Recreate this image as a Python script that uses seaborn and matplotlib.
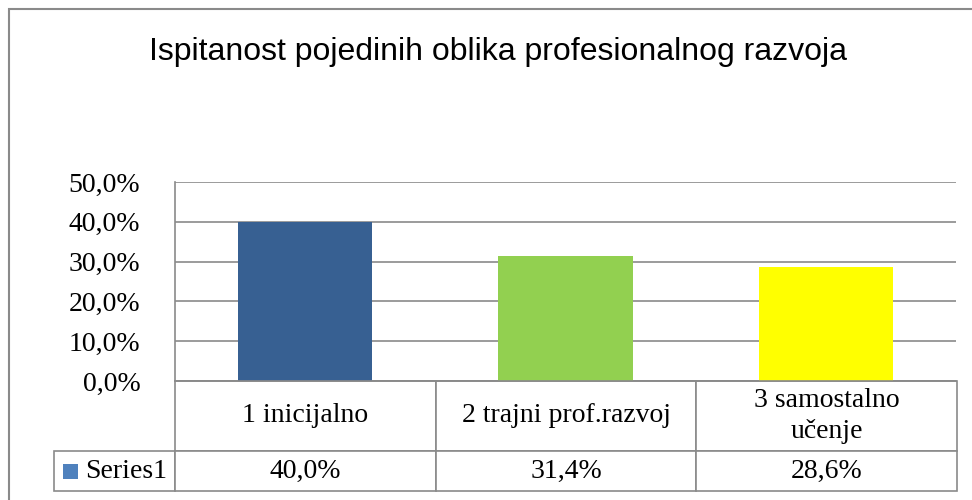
import matplotlib
matplotlib.use("Agg")
import matplotlib.pyplot as plt
from matplotlib.patches import Rectangle
from matplotlib.ticker import FuncFormatter, MultipleLocator
import pandas as pd
import seaborn as sns

# chart data
categories = ["1 inicijalno", "2 trajni prof.razvoj", "3 samostalno\nučenje"]
values = [0.400, 0.314, 0.286]
series_name = "Series1"
bar_colors = ["#376092", "#92D050", "#FFFF00"]
legend_color = "#4F81BD"
title = "Ispitanost pojedinih oblika profesionalnog razvoja"

GRAY = "#8A8A8A"


def pct(v, pos=None):
    return f"{v * 100:.1f}%".replace(".", ",")


sns.set_theme(style="white")
plt.rcParams["font.family"] = ["Liberation Serif", "DejaVu Serif"]
plt.rcParams["text.color"] = "black"

df = pd.DataFrame({"category": categories, "value": values})

fig = plt.figure(figsize=(9.72, 5.0), dpi=100)
W, H = 972, 500
ax = fig.add_axes([175 / W, 1 - 381 / H, (956 - 175) / W, (381 - 182) / H])

sns.barplot(data=df, x="category", y="value", hue="category",
            palette=bar_colors, width=0.515, saturation=1, legend=False,
            linewidth=0, ax=ax)

ax.set_xlim(-0.5, len(categories) - 0.5)
ax.set_ylim(0, 0.5)
ax.yaxis.set_major_locator(MultipleLocator(0.1))
ax.yaxis.set_major_formatter(FuncFormatter(pct))
ax.yaxis.grid(True, color=GRAY, linewidth=1.2)
ax.set_axisbelow(True)
ax.tick_params(axis="y", length=0, pad=25, labelsize=20, colors="black")
ax.set_xticks([])
ax.set_xlabel("")
ax.set_ylabel("")
for side in ("top", "right"):
    ax.spines[side].set_visible(False)
for side in ("left", "bottom"):
    ax.spines[side].set_color(GRAY)
    ax.spines[side].set_linewidth(1.2)

# data table under the plot
ax_w = 956 - 175
ax_h = 381 - 182
lbl_w = (175 - 54) / ax_w
tbl = ax.table(cellText=[[series_name] + [pct(v) for v in values]],
               colLabels=[""] + categories,
               colWidths=[lbl_w] + [1 / len(categories)] * len(categories),
               cellLoc="center",
               bbox=[-lbl_w, -(491 - 381) / ax_h, 1 + lbl_w + 1 / ax_w, (491 - 381) / ax_h])
tbl.auto_set_font_size(False)
tbl.set_fontsize(20)
for (r, c), cell in tbl.get_celld().items():
    cell.set_edgecolor(GRAY)
    cell.set_linewidth(1.2)
    cell.set_height(70 if r == 0 else 40)
    cell.get_text().set_fontsize(20)
    cell.get_text().set_color("black")
    cell.get_text().set_linespacing(1.3)
tbl[0, 0].visible_edges = "open"
tbl[1, 0].get_text().set_horizontalalignment("right")
tbl[1, 0]._loc = "right"
tbl[1, 0].PAD = 0.07

# legend key in the series cell
fig.add_artist(Rectangle((63 / W, 1 - 479 / H), 15 / W, 15 / H,
                         transform=fig.transFigure, facecolor=legend_color,
                         edgecolor="none"))

# chart area frame (right and bottom edges fall outside the picture)
fig.add_artist(Rectangle((9 / W, -0.2), 1.2, (1 - 9 / H) + 0.2,
                         transform=fig.transFigure, fill=False,
                         edgecolor=GRAY, linewidth=1.5))

fig.text(498 / W, 1 - 52 / H, title, ha="center", va="center", color="black",
         fontsize=23, family=["Liberation Sans", "DejaVu Sans"])

fig.savefig("out.png", dpi=100)
